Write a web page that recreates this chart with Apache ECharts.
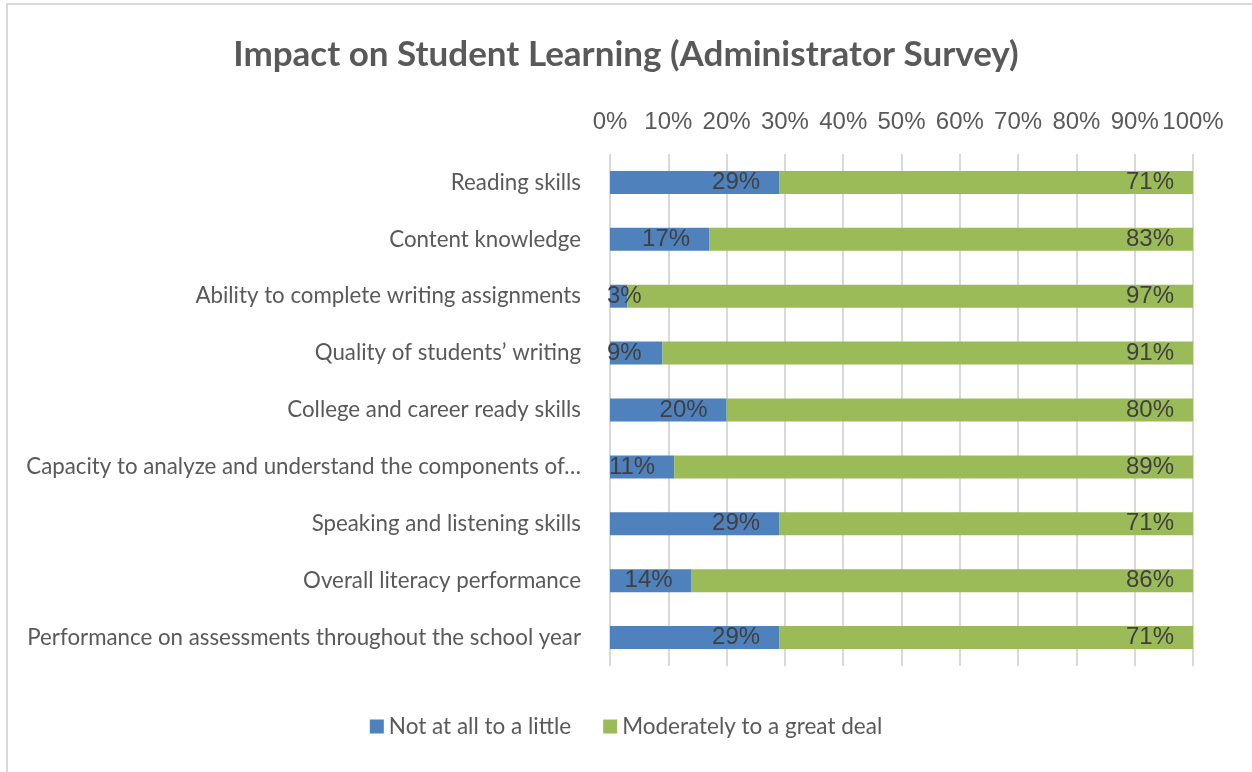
<!DOCTYPE html>
<html>
<head>
<meta charset="utf-8">
<script src="https://cdn.jsdelivr.net/npm/echarts@6/dist/echarts.min.js"></script>
<style>
  html, body { margin: 0; padding: 0; background: #fff; }
  #chart { width: 1252px; height: 772px; }
</style>
</head>
<body>
<div id="chart"></div>
<script>
'use strict';

// categories, listed from the top of the chart down
var categories = [
    'Reading skills',
    'Content knowledge',
    'Ability to complete writing assignments',
    'Quality of students\u2019 writing',
    'College and career ready skills',
    'Capacity to analyze and understand the components of\u2026',
    'Speaking and listening skills',
    'Overall literacy performance',
    'Performance on assessments throughout the school year'
];
var notAtAll = [29, 17, 3, 9, 20, 11, 29, 14, 29];
var moderately = [71, 83, 97, 91, 80, 89, 71, 86, 71];
var seriesNames = ['Not at all to a little', 'Moderately to a great deal'];
var xTicks = [0, 10, 20, 30, 40, 50, 60, 70, 80, 90, 100];

var labelFont = 'Liberation Sans';
var bodyFont = 'Lato';

// category axis runs bottom-up, so reverse for top-down reading
var cats = categories.slice().reverse();

function makeData(arr, shortLeft) {
    return arr.slice().reverse().map(function (v) {
        var item = { value: v };
        // short bars: the label sits over the bar start
        if (shortLeft && v < 10) {
            item.label = { position: 'insideLeft', distance: -3 };
        }
        return item;
    });
}

var labelStyle = {
    show: true,
    position: 'insideRight',
    distance: 19,
    color: '#404040',
    fontFamily: labelFont,
    fontSize: 24,
    formatter: '{c}%'
};

var myChart = echarts.init(document.getElementById('chart'));
var option = {
    backgroundColor: '#fff',
    animation: false,
    title: {
        text: 'Impact on Student Learning (Administrator Survey)',
        left: 'center',
        top: 32,
        textStyle: {
            color: '#595959',
            fontFamily: bodyFont,
            fontWeight: 'bold',
            fontSize: 35
        }
    },
    legend: {
        bottom: 29,
        left: 'center',
        itemWidth: 14,
        itemHeight: 14,
        itemGap: 32,
        icon: 'rect',
        textStyle: {
            color: '#595959',
            fontFamily: bodyFont,
            fontSize: 22.5
        },
        data: seriesNames
    },
    graphic: [{
        type: 'rect',
        shape: { x: 7, y: 4, width: 1300, height: 820 },
        style: { fill: 'none', stroke: '#D9D9D9', lineWidth: 2 },
        silent: true
    }],
    grid: {
        left: 610,
        right: 59,
        top: 154,
        bottom: 106
    },
    xAxis: {
        type: 'value',
        position: 'top',
        min: 0,
        max: 100,
        interval: 10,
        axisLine: { show: false },
        axisTick: { show: false },
        splitLine: { lineStyle: { color: '#D9D9D9', width: 2 } },
        axisLabel: {
            margin: 20,
            color: '#595959',
            fontFamily: labelFont,
            fontSize: 24,
            formatter: function (v) { return xTicks.indexOf(v) >= 0 ? v + '%' : ''; }
        }
    },
    yAxis: {
        type: 'category',
        data: cats,
        axisLine: { show: false },
        axisTick: { show: false },
        axisLabel: {
            margin: 29,
            color: '#595959',
            fontFamily: bodyFont,
            fontSize: 22.3
        }
    },
    series: [{
        name: seriesNames[0],
        type: 'bar',
        stack: 'total',
        barWidth: 23,
        itemStyle: { color: '#4F81BD' },
        label: labelStyle,
        data: makeData(notAtAll, true)
    }, {
        name: seriesNames[1],
        type: 'bar',
        stack: 'total',
        barWidth: 23,
        itemStyle: { color: '#9BBB59' },
        label: labelStyle,
        data: makeData(moderately, false)
    }]
};
myChart.setOption(option);
</script>
</body>
</html>
